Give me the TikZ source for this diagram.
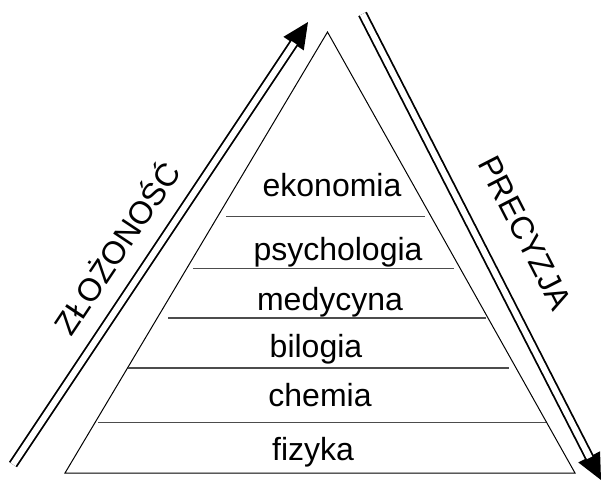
\documentclass[tikz,border=0pt]{standalone}
\usepackage{fontspec}
\setmainfont{Liberation Sans}
\usetikzlibrary{arrows.meta,calc}
\begin{document}
\begin{tikzpicture}[x=0.5pt,y=-0.5pt,
  tri/.style={line width=0.5pt,draw=black},
  level/.style={line width=0.75pt,draw=black!70},
  lab/.style={inner sep=0pt,font=\fontsize{16}{19}\selectfont,anchor=base},
  side/.style={inner sep=0pt,font=\fontsize{16}{19}\selectfont,anchor=center},
  tipline/.style={line width=0.9pt,-{Triangle[length=13pt,width=12pt]}},
  dblline/.style={double,double distance=3pt,line width=0.9pt,shorten >=12.5pt}]
\useasboundingbox (0,0) rectangle (603,483);
% triangle
\coordinate (apex) at (327.5,32);
\coordinate (bl) at (65,473);
\coordinate (br) at (575,473);
\draw[tri] (bl) -- (apex) -- (br) -- cycle;
% level lines
\draw[level] (226,216.5) -- (425,216.5);
\draw[level] (193,268.5) -- (454,268.5);
\draw[level] (168,318) -- (486,318);
\draw[level] (128,368) -- (509,368);
\draw[level] (98,422.5) -- (546,422.5);
% labels
\node[lab] (eko) at (332,196) {ekonomia};
\node[lab] (psy) at (338,260) {psychologia};
\node[lab] (med) at (330,310) {medycyna};
\node[lab] (bio) at (316,357) {bilogia};
\node[lab] (che) at (320,406.5) {chemia};
\node[lab] (fiz) at (313,460) {fizyka};
% arrows
\coordinate (la0) at (13,464.5);
\coordinate (la1) at (308,22);
\coordinate (ra0) at (362.5,14);
\coordinate (ra1) at (601,480);
\draw[tipline] ($(la1)!15pt!(la0)$) -- (la1);
\draw[tipline] ($(ra1)!15pt!(ra0)$) -- (ra1);
\draw[dblline] (la0) -- (la1);
\draw[dblline] (ra0) -- (ra1);
\node[side,rotate=56.3] (zl) at (115,247) {ZŁOŻONOŚĆ};
\node[side,rotate=-62.85] (pr) at (525,233) {PRECYZJA};
\end{tikzpicture}
\end{document}
